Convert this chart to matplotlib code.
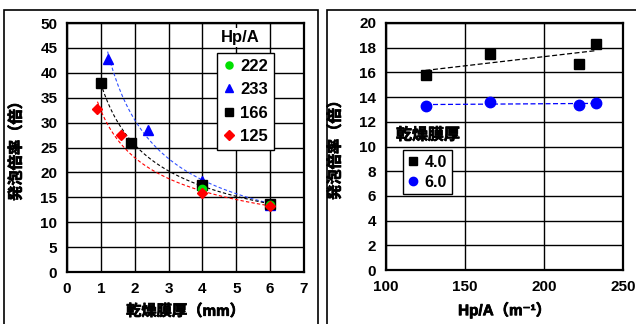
import numpy as np
import matplotlib
matplotlib.use("Agg")
import matplotlib.pyplot as plt
from matplotlib.patches import Rectangle
import matplotlib.patheffects as pe

FAM = ['Liberation Sans', 'Noto Sans CJK JP', 'DejaVu Sans']
plt.rcParams['font.family'] = FAM
plt.rcParams['font.weight'] = 'bold'

# ---- left panel data: expansion ratio vs dry film thickness, per Hp/A ----
hp_labels = ['222', '233', '166', '125']
thick_222 = [4.0, 6.0]
ratio_222 = [16.7, 13.4]
thick_233 = [1.2, 2.4, 4.0, 6.0]
ratio_233 = [42.8, 28.5, 18.3, 13.5]
thick_166 = [1.0, 1.9, 4.0, 6.0]
ratio_166 = [38.0, 26.0, 17.5, 13.6]
thick_125 = [0.9, 1.6, 4.0, 6.0]
ratio_125 = [32.8, 27.5, 15.8, 13.3]

# ---- right panel data: expansion ratio vs Hp/A, per thickness ----
hpa = [125, 166, 222, 233]
ratio_t40 = [15.8, 17.5, 16.7, 18.3]
ratio_t60 = [13.3, 13.6, 13.4, 13.5]
thick_labels = ['4.0', '6.0']

W, H = 636, 324
fig = plt.figure(figsize=(W / 100, H / 100), dpi=100)

BOLD = [pe.withStroke(linewidth=0.55, foreground='black')]

# panel frames
fig.add_artist(Rectangle((4 / W, -0.05), (318 - 4) / W, (H - 10) / H + 0.05,
                         transform=fig.transFigure, fill=False, lw=1.2, ec='black'))
fig.add_artist(Rectangle((327 / W, -0.05), (W - 327 + 5) / W, (H - 10) / H + 0.05,
                         transform=fig.transFigure, fill=False, lw=1.2, ec='black'))

ax1 = fig.add_axes([67 / W, 52 / H, (304 - 67) / W, (272 - 23) / H])
ax2 = fig.add_axes([386 / W, 54 / H, (623 - 386) / W, (270 - 23) / H])


def power_fit(x, y):
    x = np.asarray(x, float); y = np.asarray(y, float)
    b, a = np.polyfit(np.log(x), np.log(y), 1)
    return np.exp(a), b


# left panel
series = [
    (thick_222, ratio_222, '#00e000', 'o', 6, None),
    (thick_233, ratio_233, '#0000ff', '^', 7, '#3050ff'),
    (thick_166, ratio_166, 'black', 's', 6.5, 'black'),
    (thick_125, ratio_125, '#ff0000', 'D', 5.5, '#ff0000'),
]
for (x, y, c, m, ms, fc) in series:
    if fc is not None:
        A, B = power_fit(x, y)
        xx = np.linspace(min(x), max(x) + 0.1, 100)
        ax1.plot(xx, A * xx ** B, ls=(0, (3, 2)), color=fc, lw=0.8, zorder=2)
plot_order = [1, 2, 0, 3]
hd = {}
for i in plot_order:
    x, y, c, m, ms, fc = series[i]
    hd[i], = ax1.plot(x, y, ls='none', marker=m, color=c, ms=ms, zorder=3, label=hp_labels[i])

ax1.set_xlim(0, 7)
ax1.set_ylim(0, 50)
ax1.set_xticks(range(0, 8))
ax1.set_yticks(range(0, 51, 5))
ax1.set_xlabel('乾燥膜厚（mm）', fontsize=11, fontweight='bold', labelpad=6, path_effects=BOLD)
ax1.set_ylabel('発泡倍率（倍）', fontsize=11, fontweight='bold', labelpad=12, path_effects=BOLD)
leg1 = ax1.legend([hd[0], hd[1], hd[2], hd[3]], hp_labels, loc='upper left',
                  bbox_to_anchor=(150 / 237, (272 - 53) / 249), fancybox=False,
                  edgecolor='black', framealpha=1, handlelength=0.7, markerscale=0.85,
                  handletextpad=0.35, borderpad=0.35, labelspacing=0.5,
                  borderaxespad=0, prop={'weight': 'bold', 'size': 12})
leg1.get_frame().set_linewidth(1.0)
ax1.text((240 - 67) / 237, (272 - 37) / 249, 'Hp/A', transform=ax1.transAxes,
         ha='center', va='center', fontsize=12, fontweight='bold',
         bbox=dict(fc='white', ec='none', pad=1.5), zorder=5)

# right panel
for y, c in [(ratio_t40, 'black'), (ratio_t60, '#0000ff')]:
    k, b0 = np.polyfit(hpa, y, 1)
    xx = np.array([min(hpa), max(hpa)])
    ax2.plot(xx, k * xx + b0, ls=(0, (4, 2)), color=c, lw=0.9, zorder=2)
h40, = ax2.plot(hpa, ratio_t40, ls='none', marker='s', color='black', ms=6.5, zorder=3)
h60, = ax2.plot(hpa, ratio_t60, ls='none', marker='o', color='#0000ff', ms=7.5, zorder=3)
ax2.set_xlim(100, 250)
ax2.set_ylim(0, 20)
ax2.set_xticks([100, 150, 200, 250])
ax2.set_yticks(range(0, 21, 2))
ax2.set_xlabel('Hp/A（m⁻¹）', fontsize=11, fontweight='bold', labelpad=6, path_effects=BOLD)
ax2.set_ylabel('発泡倍率（倍）', fontsize=11, fontweight='bold', labelpad=12, path_effects=BOLD)
leg2 = ax2.legend([h40, h60], thick_labels, loc='upper left',
                  bbox_to_anchor=((403 - 386) / 237, (270 - 150) / 247), fancybox=False,
                  edgecolor='black', framealpha=1, handlelength=0.7, markerscale=0.8,
                  handletextpad=0.35, borderpad=0.3, labelspacing=0.3,
                  borderaxespad=0, prop={'weight': 'bold', 'size': 11.5})
leg2.get_frame().set_linewidth(1.0)
ax2.text((428 - 386) / 237, (270 - 135) / 247, '乾燥膜厚', transform=ax2.transAxes,
         ha='center', va='center', fontsize=11.5, fontweight='bold', path_effects=BOLD,
         bbox=dict(fc='white', ec='none', pad=1.5), zorder=5)

for ax in (ax1, ax2):
    ax.grid(True, color='black', lw=1.0)
    ax.set_axisbelow(True)
    ax.tick_params(length=0, labelsize=11, pad=7)
    for s in ax.spines.values():
        s.set_linewidth(1.6)
    for lab in ax.get_xticklabels() + ax.get_yticklabels():
        lab.set_fontweight('bold')

fig.savefig('out.png', dpi=100)
